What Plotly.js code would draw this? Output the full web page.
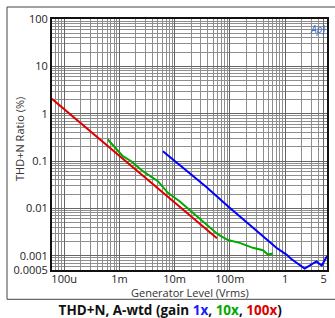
<!DOCTYPE html>
<html>
<head>
<meta charset="utf-8">
<script src="https://cdn.plot.ly/plotly-3.0.1.min.js"></script>
<style>html,body{margin:0;padding:0;background:#fff;}#chart{width:335px;height:318px;}</style>
</head>
<body>
<div id="chart"></div>
<script>
// Gain 100x (red)
var redX = [6.0e-5, 1.0e-4, 1.6e-4, 2.5e-4, 4.0e-4, 6.3e-4, 1.0e-3, 1.6e-3, 2.5e-3, 4.0e-3, 6.3e-3, 1.0e-2, 1.6e-2, 2.5e-2, 4.0e-2, 5.85e-2];
var redY = [2.07, 1.25, 0.80, 0.50, 0.325, 0.200, 0.131, 0.080, 0.0530, 0.0325, 0.0212, 0.0131, 0.00845, 0.00530, 0.00340, 0.00233];
// Gain 10x (green)
var greenX = [6.18e-4, 1.156e-3, 1.64e-3, 2.66e-3, 4.98e-3, 7.57e-3, 1.23e-2, 2.30e-2, 3.75e-2, 6.10e-2, 9.25e-2, 0.1507, 0.262, 0.398, 0.491, 0.604];
var greenY = [0.285, 0.1265, 0.0993, 0.0611, 0.0375, 0.0213, 0.0142, 0.00743, 0.00457, 0.00281, 0.00215, 0.00187, 0.00147, 0.00131, 0.00106, 0.00112];
// Gain 1x (blue)
var blueX = [6.14e-3, 1.41e-2, 3.76e-2, 9.25e-2, 0.199, 0.527, 0.697, 1.06, 1.30, 2.27, 3.70, 4.61, 5.75];
var blueY = [0.1614, 0.0720, 0.0283, 0.01114, 0.00516, 0.00187, 0.00147, 0.00106, 0.000853, 0.000538, 0.000757, 0.000622, 0.000977];

var xTickVals = [1e-4, 1e-3, 1e-2, 1e-1, 1, 5];
var xTickText = ['100u', '1m', '10m', '100m', '1', '5'];
var yTickVals = [0.0005, 0.001, 0.01, 0.1, 1, 10, 100];
var yTickText = ['0.0005', '0.001', '0.01', '0.1', '1', '10', '100'];

function minorVals(e0, e1) {
  var v = [];
  for (var e = e0; e <= e1; e++) {
    for (var d = 2; d <= 9; d++) v.push(d * Math.pow(10, e));
  }
  return v;
}

var font = 'Open Sans, Noto Sans, sans-serif';
var lineW = 2;
var traces = [
  {x: redX, y: redY, type: 'scatter', mode: 'lines', line: {color: '#dd0000', width: lineW}, hoverinfo: 'skip'},
  {x: greenX, y: greenY, type: 'scatter', mode: 'lines', line: {color: '#00aa00', width: lineW}, hoverinfo: 'skip'},
  {x: blueX, y: blueY, type: 'scatter', mode: 'lines', line: {color: '#0000ff', width: lineW}, hoverinfo: 'skip'}
];

var layout = {
  width: 335, height: 318,
  margin: {l: 52, r: 8, t: 19, b: 48, pad: 0},
  paper_bgcolor: '#fff', plot_bgcolor: '#fff',
  showlegend: false,
  font: {family: font, size: 11, color: '#222'},
  title: {
    text: '<b>THD+N, A-wtd (gain <span style="color:#1a1aff">1x</span>, <span style="color:#00aa00">10x</span>, <span style="color:#dd0000">100x</span>)</b>',
    font: {family: font, size: 13.5, color: '#111'},
    x: 0.508, xref: 'container', xanchor: 'center',
    y: 1 - 310 / 318, yref: 'container', yanchor: 'middle'
  },
  xaxis: {
    type: 'log', range: [-4.22, 0.76],
    tickmode: 'array', tickvals: xTickVals, ticktext: xTickText,
    ticks: '', showgrid: true, gridcolor: '#666666', gridwidth: 1,
    showline: true, mirror: true, linecolor: '#111', linewidth: 2,
    zeroline: false, ticklabelstandoff: -2,
    tickfont: {family: font, size: 11, color: '#222'},
    minor: {tickmode: 'array', tickvals: minorVals(-5, 0), showgrid: true, gridcolor: '#8e8e8e', gridwidth: 1, ticks: ''}
  },
  yaxis: {
    type: 'log', range: [Math.log10(0.0005), 2],
    tickmode: 'array', tickvals: yTickVals, ticktext: yTickText,
    ticks: '', showgrid: true, gridcolor: '#666666', gridwidth: 1,
    showline: true, mirror: true, linecolor: '#111', linewidth: 2,
    zeroline: false,
    tickfont: {family: font, size: 11, color: '#222'},
    minor: {tickmode: 'array', tickvals: minorVals(-4, 1), showgrid: true, gridcolor: '#8e8e8e', gridwidth: 1, ticks: ''}
  },
  annotations: [
    {text: 'THD+N Ratio (%)', xref: 'paper', yref: 'paper', x: (19.5 - 52) / 275, y: 0.52,
     xanchor: 'center', yanchor: 'middle', textangle: -90, showarrow: false,
     font: {family: font, size: 11, color: '#333'}},
    {text: 'Generator Level (Vrms)', xref: 'paper', yref: 'paper', x: (190 - 52) / 275, y: (270 - 292.5) / 251,
     xanchor: 'center', yanchor: 'middle', showarrow: false,
     font: {family: font, size: 11, color: '#333'}},
    {text: '<i>Ap)</i>', xref: 'paper', yref: 'paper', x: (317 - 52) / 275, y: (270 - 29) / 251,
     xanchor: 'center', yanchor: 'middle', showarrow: false,
     font: {family: font, size: 10, color: '#3a6fc8'}}
  ],
  shapes: [
    {type: 'rect', xref: 'paper', yref: 'paper', x0: (7 - 52) / 275, x1: 1.04, y0: (270 - 299.3) / 251, y1: (270 - 7) / 251,
     line: {color: '#444', width: 1}, fillcolor: 'rgba(0,0,0,0)', layer: 'below'}
  ]
};

Plotly.newPlot('chart', traces, layout, {displayModeBar: false, staticPlot: true});
</script>
</body>
</html>
